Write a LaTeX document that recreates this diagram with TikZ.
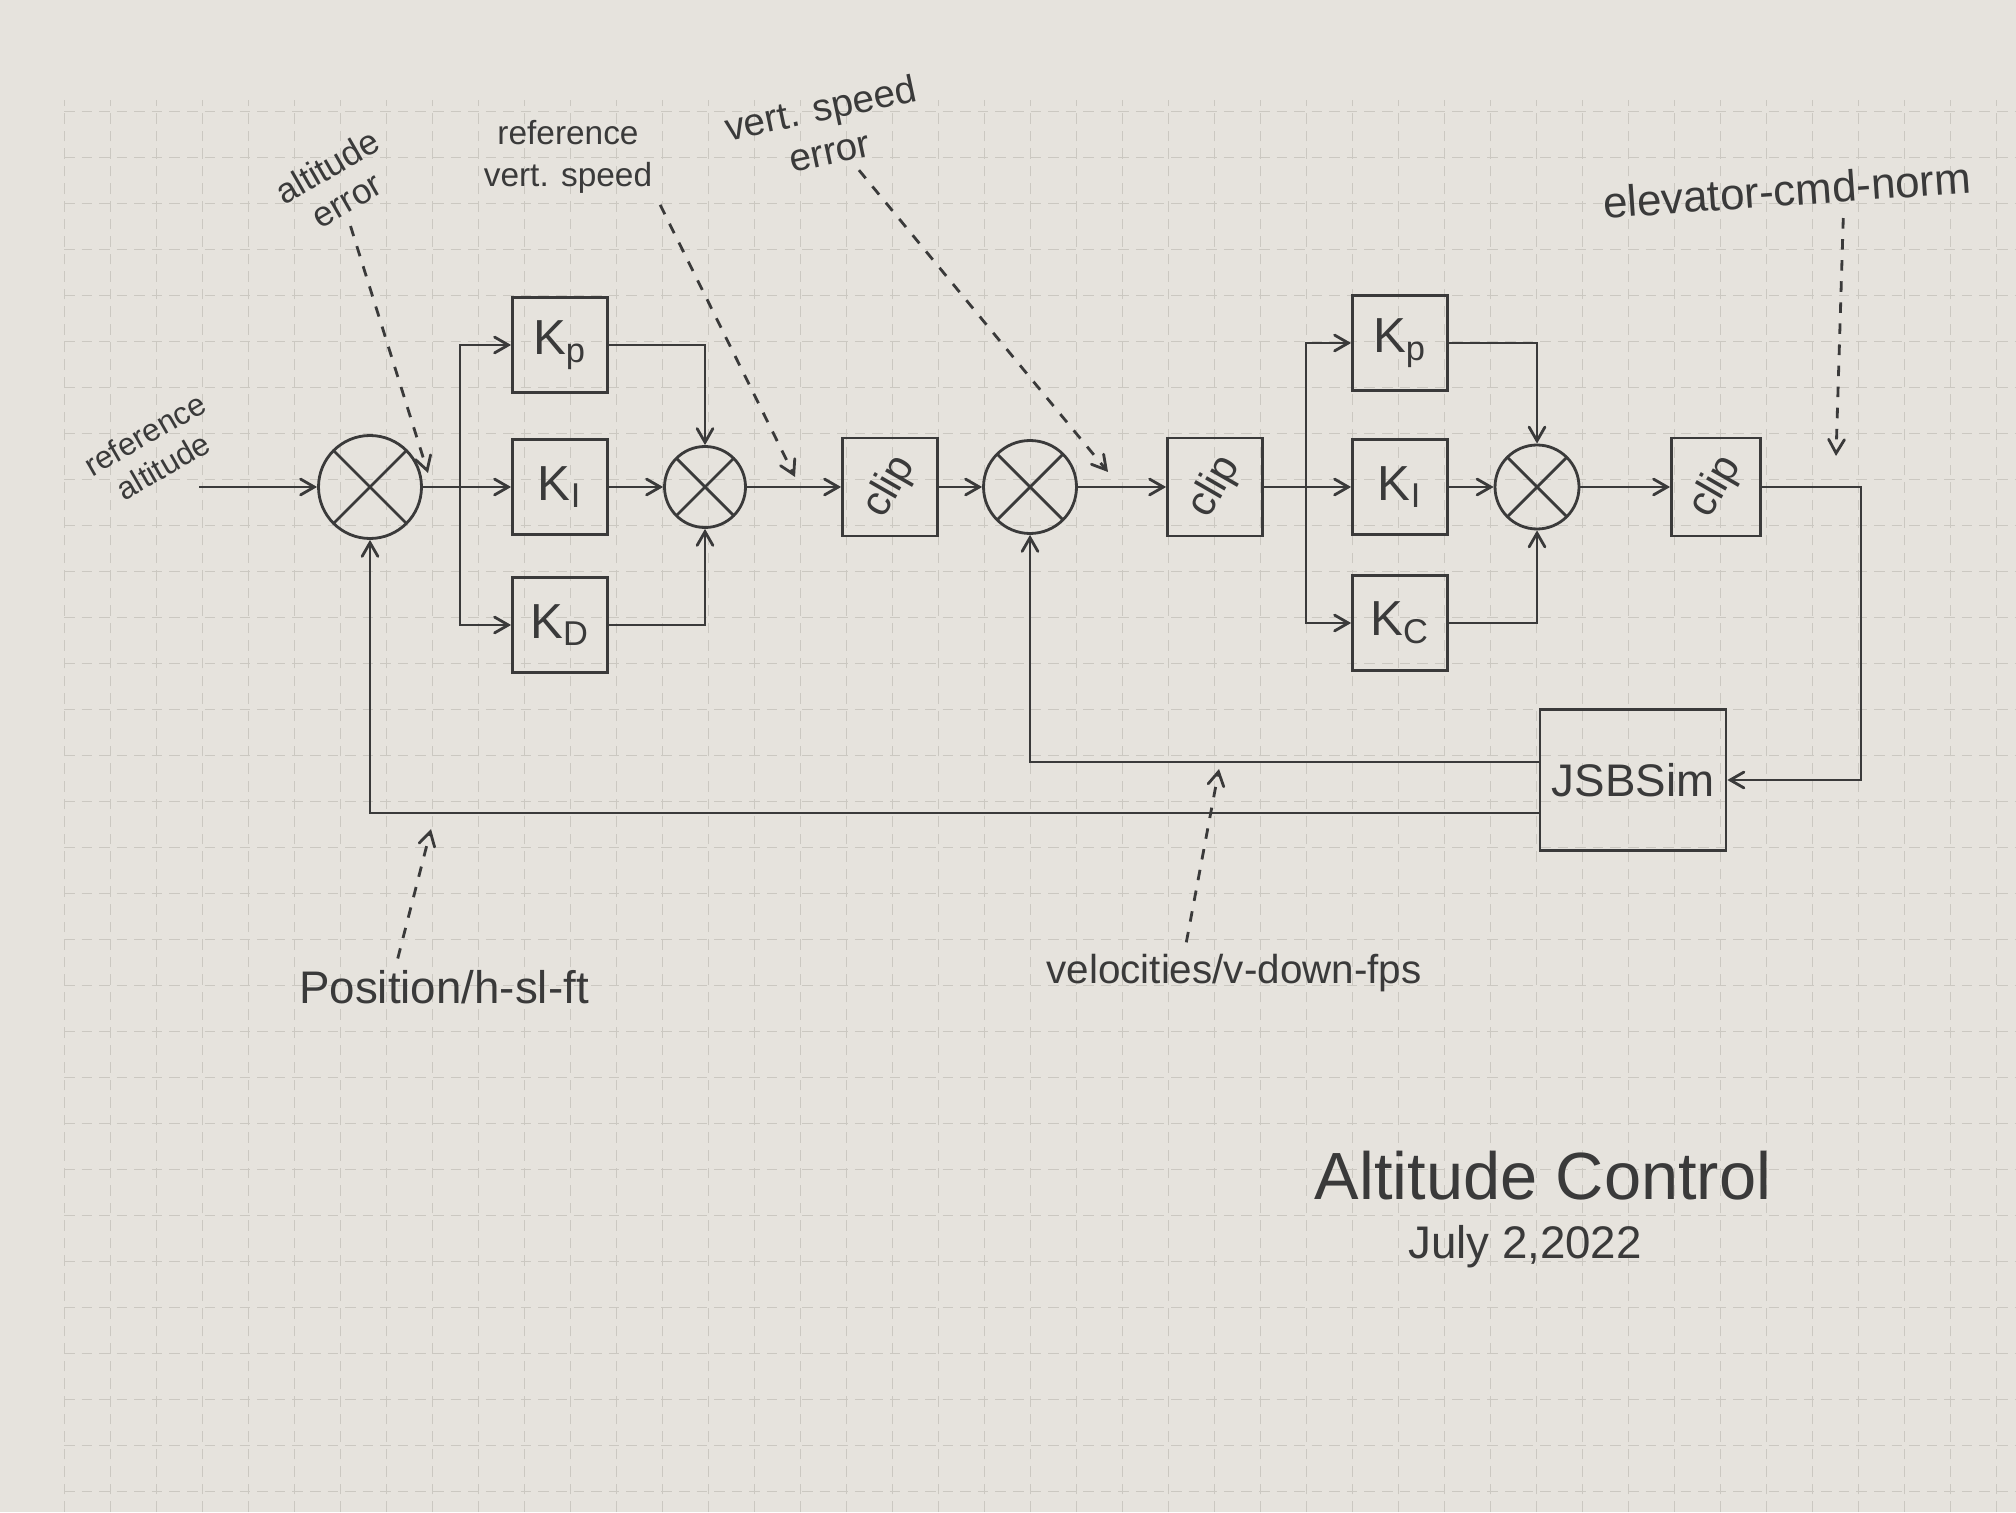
\documentclass[tikz,border=0pt]{standalone}
\usepackage{fontspec}
\setmainfont{Liberation Sans}
\usepackage{tikz}
\usetikzlibrary{shapes, arrows, calc, positioning}
\definecolor{ink}{HTML}{3A3A3A}
\definecolor{paper}{HTML}{E6E3DD}
\definecolor{gridline}{HTML}{CBC8C1}
\tikzstyle{block} = [rectangle, minimum width=0.95cm, minimum height=0.95cm, text centered, draw=ink, text=ink, align=center, font=\fontsize{14}{16}\selectfont]
\tikzstyle{sum} = [circle, minimum size=0.9cm, draw=ink, inner sep=0pt, path picture={\draw[ink] (path picture bounding box.south west) -- (path picture bounding box.north east) (path picture bounding box.north west) -- (path picture bounding box.south east);}]
\tikzstyle{arrow} = [->, draw=ink]
\tikzstyle{note} = [dashed, ->, draw=ink, shorten <=2pt]
\tikzstyle{hand} = [text=ink, align=center, inner sep=1pt]
\newcommand{\cliptext}{\rotatebox{60}{\fontsize{12}{14}\selectfont clip}}

\begin{document}
\begin{tikzpicture}[auto, thick, on grid, node distance=1.85cm, >=angle 60]
    \useasboundingbox[fill=paper] (0,0) rectangle (20.16,15.12);
    \begin{scope}[shift={(0.18,0.21)}]
        \draw[gridline, very thin, densely dashed, step=0.46] (0.46,-0.21) grid (19.98,13.91);
    \end{scope}

    \node (Sum1) [sum, minimum size=1.03cm] at (3.70,10.25) {};
    \node (KI1) [block, right = 1.9 of Sum1] {K\textsubscript{I}};
    \node (Kp1) [block, above = 1.42 of KI1] {K\textsubscript{p}};
    \node (KD1) [block, below = 1.38 of KI1] {K\textsubscript{D}};
    \node (Sum2) [sum, minimum size=0.81cm, right = 1.45 of KI1] {};
    \node (Clip1) [block, minimum height=0.92cm, right = 1.85 of Sum2] {\cliptext};
    \node (Sum3) [sum, minimum size=0.93cm, right = 1.4 of Clip1] {};
    \node (Clip2) [block, minimum height=0.92cm, right = 1.85 of Sum3] {\cliptext};
    \node (KI2) [block, right = 1.85 of Clip2] {K\textsubscript{I}};
    \node (Kp2) [block, above = 1.44 of KI2] {K\textsubscript{p}};
    \node (KC2) [block, below = 1.36 of KI2] {K\textsubscript{C}};
    \node (Sum4) [sum, minimum size=0.84cm, right = 1.37 of KI2] {};
    \node (Clip3) [block, minimum width=0.87cm, minimum height=0.85cm, right = 1.79 of Sum4] {\cliptext};
    \node (JSBSim) [block, minimum width=1.8cm, minimum height=1.41cm, font=\fontsize{13}{15}\selectfont] at (16.33,7.32) {JSBSim};
    \coordinate[left = 1.71 of Sum1] (Start);
    \coordinate[right = 0.9 of Sum1] (Fork1);
    \coordinate[right = 0.91 of Clip2] (Fork2);
    \coordinate[right = 1.45 of Clip3] (Corner);

    \node (RefAlt) [hand, rotate=30, font=\fontsize{9}{10.5}\selectfont] at (1.54,10.62) {reference\\altitude};
    \node (AltErr) [hand, rotate=30, font=\fontsize{10}{11}\selectfont] at (3.37,13.29) {altitude\\error};
    \node (RefVS) [hand, font=\fontsize{9.5}{12}\selectfont] at (5.68,13.55) {reference\\vert. speed};
    \node (VSErr) [hand, rotate=12, font=\fontsize{11}{12.5}\selectfont] at (8.25,13.83) {vert. speed\\error};
    \node (ElevCmd) [hand, rotate=4, font=\fontsize{12.5}{14}\selectfont] at (17.87,13.22) {elevator-cmd-norm};
    \node (PosH) [hand, font=\fontsize{13}{15}\selectfont] at (4.44,5.25) {Position/h-sl-ft};
    \node (VelDown) [hand, font=\fontsize{11.5}{13}\selectfont] at (12.34,5.39) {velocities/v-down-fps};
    \node (Title) [hand, font=\fontsize{19}{22}\selectfont] at (15.43,3.36) {Altitude Control};
    \node (Date) [hand, font=\fontsize{13}{15}\selectfont] at (15.25,2.65) {July 2,2022};
    \coordinate (AltErrTip) at (4.28,10.39);
    \coordinate (RefVSTip) at (7.95,10.35);
    \coordinate (VSErrTip) at (11.08,10.40);
    \coordinate (ElevTip) at (18.36,10.56);
    \coordinate (PosTip) at (4.31,6.83);
    \coordinate (VelTip) at (12.19,7.43);

    \draw [arrow] (Start) -- (Sum1);
    \draw [arrow] (Sum1) -- (KI1);
    \draw [arrow] (Fork1) |- (Kp1);
    \draw [arrow] (Fork1) |- (KD1);
    \draw [arrow] (Kp1) -| (Sum2);
    \draw [arrow] (KI1) -- (Sum2);
    \draw [arrow] (KD1) -| (Sum2);
    \draw [arrow] (Sum2) -- (Clip1);
    \draw [arrow] (Clip1) -- (Sum3);
    \draw [arrow] (Sum3) -- (Clip2);
    \draw [arrow] (Clip2) -- (KI2);
    \draw [arrow] (Fork2) |- (Kp2);
    \draw [arrow] (Fork2) |- (KC2);
    \draw [arrow] (Kp2) -| (Sum4);
    \draw [arrow] (KI2) -- (Sum4);
    \draw [arrow] (KC2) -| (Sum4);
    \draw [arrow] (Sum4) -- (Clip3);
    \draw [arrow] (Clip3) -- (Corner) |- (JSBSim);
    \draw [arrow] ([yshift=0.18cm]JSBSim.west) -| (Sum3);
    \draw [arrow] ([yshift=-0.33cm]JSBSim.west) -| (Sum1);

    \draw [note] (AltErr) -- (AltErrTip);
    \draw [note] (RefVS.south east) -- (RefVSTip);
    \draw [note] (VSErr) -- (VSErrTip);
    \draw [note] ([xshift=0.55cm]ElevCmd.south) -- (ElevTip);
    \draw [note] ([xshift=-0.48cm]PosH.north) -- (PosTip);
    \draw [note] ([xshift=-0.49cm]VelDown.north) -- (VelTip);
\end{tikzpicture}
\end{document}
